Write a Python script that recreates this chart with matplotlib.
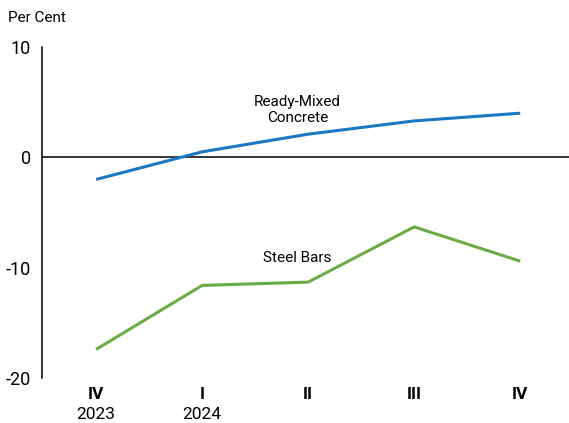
import matplotlib
matplotlib.use("Agg")
import matplotlib.pyplot as plt

quarters = ["IV", "I", "II", "III", "IV"]
years = ["2023", "2024", "", "", ""]
concrete = [-2.0, 0.5, 2.1, 3.3, 4.0]
steel = [-17.4, -11.6, -11.3, -6.3, -9.4]
yticks = [-20, -10, 0, 10]

plt.rcParams["font.family"] = ["Roboto", "DejaVu Sans"]

fig = plt.figure(figsize=(5.69, 4.23), dpi=100)
ax = fig.add_axes([0.0738, 0.106, 0.9262, 0.783])

x = list(range(len(quarters)))
ax.plot(x, concrete, color="#1a78c2", lw=2.2, solid_capstyle="butt")
ax.plot(x, steel, color="#6aac46", lw=2.2, solid_capstyle="butt")
ax.axhline(0, color="black", lw=1.1, zorder=1)

ax.set_xlim(-0.51, 4.46)
ax.set_ylim(-20, 10)
ax.set_yticks(yticks)
ax.set_yticklabels([str(v) for v in yticks], fontsize=13)
ax.tick_params(axis="y", length=0, pad=8)
ax.set_xticks([])

for spine in ["top", "right", "bottom"]:
    ax.spines[spine].set_visible(False)
ax.spines["left"].set_linewidth(1.1)

for i, (q, yr) in enumerate(zip(quarters, years)):
    ax.annotate(q, xy=(i, 0), xycoords=("data", "axes fraction"),
                xytext=(0, -12), textcoords="offset points",
                ha="center", va="center", fontsize=12.5, fontweight="bold")
    if yr:
        ax.annotate(yr, xy=(i, 0), xycoords=("data", "axes fraction"),
                    xytext=(0, -26), textcoords="offset points",
                    ha="center", va="center", fontsize=12.5)

ax.text(1.9, 4.3, "Ready-Mixed\nConcrete", ha="center", va="center",
        fontsize=11, linespacing=1.25)
ax.text(1.9, -9.1, "Steel Bars", ha="center", va="center", fontsize=11)

fig.text(0.014, 0.958, "Per Cent", ha="left", va="center", fontsize=11)

fig.savefig("out.png", dpi=100)
